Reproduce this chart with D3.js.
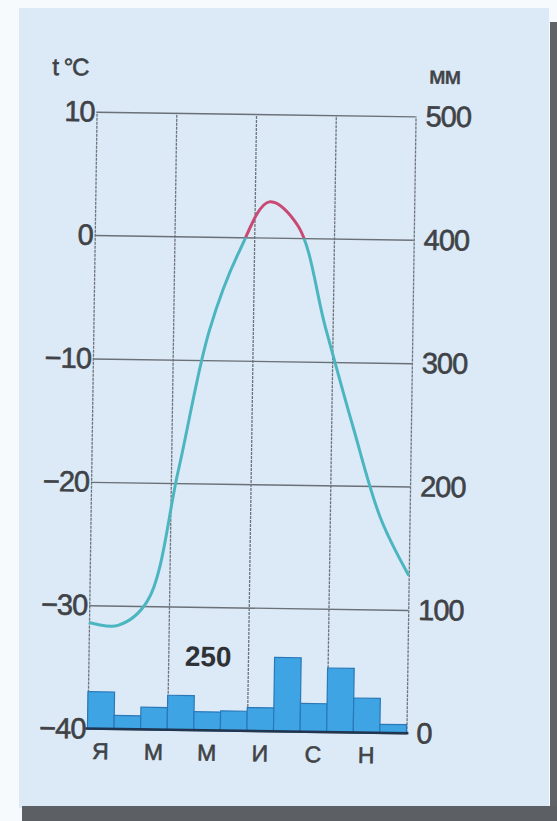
<!DOCTYPE html>
<html><head><meta charset="utf-8">
<script src="https://cdn.jsdelivr.net/npm/d3@7/dist/d3.min.js"></script>
<style>
html,body{margin:0;padding:0;background:#fafcfd;}
svg{display:block;}
</style></head>
<body>
<svg id="chart" width="557" height="821"></svg>
<script>
// ---- data ----
const months = ["Я","Ф","М","А","М","И","И","А","С","О","Н","Д"];
const monthLabelIdx = [0,2,4,6,8,10];
const precip = [30,11,18,28,15,16,19,60,23,52,28,7];
const temp = [-31.4,-31.6,-29.6,-19,-7.6,-1.1,2.9,1.0,-7.2,-15.2,-22.6,-27.2];
const tempTicks = [10,0,-10,-20,-30,-40];
const precipTicks = [500,400,300,200,100,0];
const gridMonths = [0,3,6,9,12];
const annualTotal = "250";
const tempUnit = "t °C";
const precipUnit = "мм";

// ---- layout ----
const L = 92, R = 411, T = 114, B = 731;
const svg = d3.select("#chart");

// page background (photo of a book page)
svg.append("rect").attr("width",557).attr("height",821).attr("fill","#f7fafc");
svg.append("rect").attr("x",19).attr("y",8).attr("width",530).attr("height",800).attr("fill","#dce9f6");
svg.append("rect").attr("x",550).attr("y",22).attr("width",7).attr("height",799).attr("fill","#5f6266");
svg.append("rect").attr("x",22).attr("y",806).attr("width",535).attr("height",15).attr("fill","#5c5f63");

const g = svg.append("g").attr("transform","rotate(0.85,251,422)");

const x = d3.scaleBand().domain(d3.range(12)).range([L,R]).padding(0);
const xm = d3.scaleLinear().domain([0,12]).range([L,R]);
const xLine = d3.scalePoint().domain(d3.range(12)).range([L,R]);
const yT = d3.scaleLinear().domain([-40,10]).range([B,T]);
const yP = d3.scaleLinear().domain([0,500]).range([B,T]);

const txtCol = "#3f4347";
const font = "'Liberation Sans', Arial, sans-serif";
function styleText(sel, size){
  sel.attr("font-family",font).attr("font-size",size).attr("fill",txtCol)
     .attr("stroke",txtCol).attr("stroke-width",0.6).attr("letter-spacing",-1);
}

// vertical grid
const vg = g.append("g").attr("transform",`translate(0,${B})`)
  .call(d3.axisBottom(xm).tickValues(gridMonths).tickSize(-(B-T)).tickFormat(""));
vg.select(".domain").remove();
vg.selectAll("line").attr("stroke","#6d747b").attr("stroke-width",1.3).attr("stroke-dasharray","3,1");

// left axis + horizontal grid
const la = g.append("g").attr("transform",`translate(${L},0)`)
  .call(d3.axisLeft(yT).tickValues(tempTicks).tickSize(-(R-L)).tickPadding(2)
    .tickFormat(d => d < 0 ? "\u2212" + Math.abs(d) : String(d)));
la.select(".domain").remove();
la.selectAll("line").attr("stroke","#6a7077").attr("stroke-width",1.4);
styleText(la.selectAll("text"), 29);

// right axis
const ra = g.append("g").attr("transform",`translate(${R},0)`)
  .call(d3.axisRight(yP).tickValues(precipTicks).tickSize(0).tickPadding(10));
ra.select(".domain").remove();
styleText(ra.selectAll("text"), 29);

// bars
g.append("g").selectAll("rect").data(precip).join("rect")
  .attr("x",(d,i)=>x(i)).attr("width",x.bandwidth())
  .attr("y",d=>yP(d)).attr("height",d=>yP(0)-yP(d))
  .attr("fill","#3ea4e4").attr("stroke","#2a78b8").attr("stroke-width",1.2);

// baseline
g.append("line").attr("x1",L-2).attr("x2",R+2).attr("y1",B).attr("y2",B)
  .attr("stroke","#1f3550").attr("stroke-width",2.5);

// bottom month labels
const ba = g.append("g").attr("transform",`translate(0,${B})`)
  .call(d3.axisBottom(x).tickValues(monthLabelIdx).tickSize(0).tickPadding(14)
    .tickFormat(i => months[i]));
ba.select(".domain").remove();
styleText(ba.selectAll("text"), 23);
ba.selectAll("text").attr("letter-spacing",0);

// temperature curve (red above 0, teal below)
const defs = svg.append("defs");
defs.append("clipPath").attr("id","above").append("rect")
  .attr("x",0).attr("y",0).attr("width",557).attr("height",yT(0));
defs.append("clipPath").attr("id","below").append("rect")
  .attr("x",0).attr("y",yT(0)).attr("width",557).attr("height",821);
const line = d3.line().x((d,i)=>xLine(i)).y(d=>yT(d)).curve(d3.curveCatmullRom.alpha(0.5));
g.append("path").datum(temp).attr("d",line).attr("fill","none")
  .attr("stroke","#4bb5c0").attr("stroke-width",3).attr("clip-path","url(#below)");
g.append("path").datum(temp).attr("d",line).attr("fill","none")
  .attr("stroke","#c84a74").attr("stroke-width",3).attr("clip-path","url(#above)");

// unit labels
styleText(g.append("text").attr("x",47).attr("y",78).text(tempUnit), 24);
styleText(g.append("text").attr("x",424).attr("y",81).text(precipUnit), 24);

// annual precipitation total
g.append("text").attr("x",xm(4.5)).attr("y",yP(52)).attr("text-anchor","middle").text(annualTotal)
  .attr("font-family",font).attr("font-size",28).attr("font-weight","bold").attr("fill","#2e3236");
</script>
</body></html>
